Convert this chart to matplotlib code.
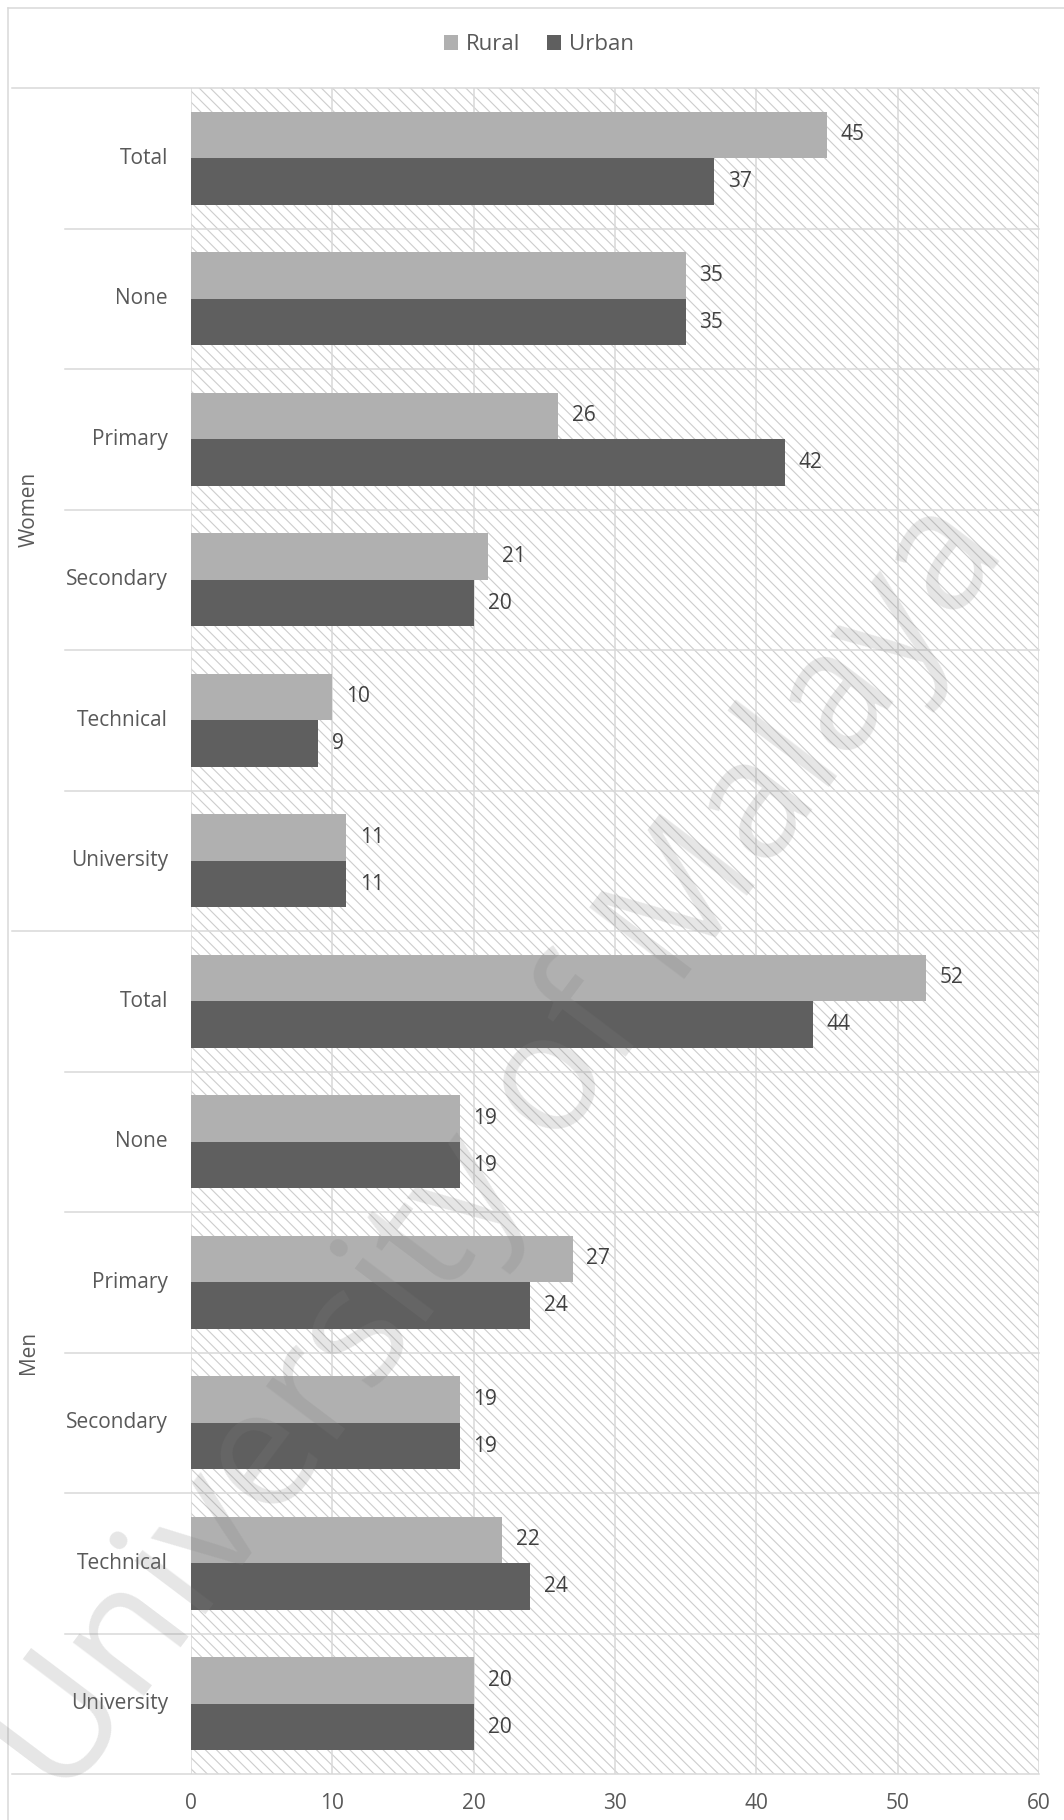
import numpy as np
import matplotlib
matplotlib.use("Agg")
import matplotlib.pyplot as plt
from matplotlib.patches import Rectangle
from matplotlib.lines import Line2D
import matplotlib.transforms as mtransforms

plt.rcParams['font.family'] = ['Open Sans', 'DejaVu Sans']
plt.rcParams['hatch.linewidth'] = 0.8

# education level by sex, rural vs urban (%)
groups = ['Women', 'Men']
levels = ['Total', 'None', 'Primary', 'Secondary', 'Technical', 'University']
rural_women = [45, 35, 26, 21, 10, 11]
urban_women = [37, 35, 42, 20, 9, 11]
rural_men = [52, 19, 27, 19, 22, 20]
urban_men = [44, 19, 24, 19, 24, 20]
xticks = [0, 10, 20, 30, 40, 50, 60]

rural = rural_women + rural_men
urban = urban_women + urban_men
labels = levels + levels

RURAL_C = '#b0b0b0'
URBAN_C = '#5f5f5f'
GRID_C = '#d9d9d9'
TEXT_C = '#595959'
VAL_C = '#404040'

W, H = 1064, 1820
fig = plt.figure(figsize=(W / 100, H / 100), dpi=100)
L, R, T, B = 191, 1039, 88, 1774
ax = fig.add_axes([L / W, 1 - B / H, (R - L) / W, (B - T) / H])

n = len(labels)
y = np.arange(n) + 0.5
bh = 0.332

# hatched plot background
ax.add_patch(Rectangle((0, 0), 1, 1, transform=ax.transAxes, facecolor='white',
                       edgecolor='#cdcdcd', hatch='\\\\\\', lw=0, zorder=0))

for xv in xticks:
    ax.axvline(xv, color=GRID_C, lw=1.1, zorder=1)

ax.barh(y - bh / 2, rural, height=bh, color=RURAL_C, label='Rural', zorder=2)
ax.barh(y + bh / 2, urban, height=bh, color=URBAN_C, label='Urban', zorder=2)

for yi, v in zip(y - bh / 2, rural):
    ax.annotate(str(v), (v, yi), xytext=(10, 0), textcoords='offset points',
                ha='left', va='center', fontsize=15, color=VAL_C, zorder=3)
for yi, v in zip(y + bh / 2, urban):
    ax.annotate(str(v), (v, yi), xytext=(10, 0), textcoords='offset points',
                ha='left', va='center', fontsize=15, color=VAL_C, zorder=3)

ax.set_xlim(xticks[0], xticks[-1])
ax.set_ylim(n, 0)
ax.set_xticks(xticks)
ax.set_yticks([])
ax.tick_params(axis='x', length=0, pad=14, labelsize=15, labelcolor=TEXT_C)
for s in ax.spines.values():
    s.set_visible(False)

# category separators running into the label area
trans = mtransforms.blended_transform_factory(ax.transAxes, ax.transData)
x_outer = (12 - L) / (R - L)
x_inner = (65 - L) / (R - L)
per_group = len(levels)
for k in range(n + 1):
    x0 = x_outer if k % per_group == 0 else x_inner
    ax.add_line(Line2D([x0, 1], [k, k], transform=trans, color=GRID_C,
                       lw=1.1, clip_on=False, zorder=1))

# level labels and group labels
for yi, lab in zip(y, labels):
    ax.text((168 - L) / (R - L), yi, lab, transform=trans, ha='right',
            va='center', fontsize=15, color=TEXT_C)
for g, name in enumerate(groups):
    ax.text((29 - L) / (R - L), g * per_group + per_group / 2, name,
            transform=trans, rotation=90, ha='center', va='center',
            fontsize=15, color=TEXT_C)

# chart frame
fig.add_artist(Line2D([8 / W, 8 / W], [0, 1 - 8 / H], color=GRID_C, lw=1.1))
fig.add_artist(Line2D([8 / W, 1], [1 - 8 / H, 1 - 8 / H], color=GRID_C, lw=1.1))

leg = fig.legend(loc='center', bbox_to_anchor=(539 / W, 1 - 45 / H), ncol=2,
                 frameon=False, fontsize=16, handlelength=0.65, handleheight=0.65,
                 handletextpad=0.35, columnspacing=1.2)
for t in leg.get_texts():
    t.set_color(TEXT_C)

# watermark, sized to run corner to corner
wm = fig.text(500 / W, 1 - 1150 / H, 'University of Malaya', rotation=0,
              rotation_mode='anchor', ha='center', va='center', fontsize=100,
              color='#808080', alpha=0.2, zorder=10)
renderer = fig.canvas.get_renderer()
w0 = wm.get_window_extent(renderer).width
wm.set_fontsize(100 * 1570 / w0)
wm.set_rotation(53)

fig.savefig('out.png', dpi=100)
